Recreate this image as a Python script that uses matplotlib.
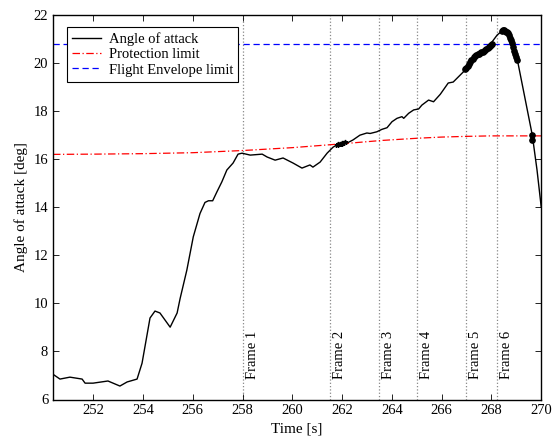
import matplotlib.pyplot as plt

plt.rcParams['font.family'] = ['Liberation Serif', 'DejaVu Serif']

# angle of attack trace
time = [250.38, 250.66, 251.06, 251.55, 251.67, 251.99, 252.59, 253.07, 253.36,
        253.76, 253.96, 254.28, 254.48, 254.68, 255.09, 255.37, 255.49, 255.76,
        256.02, 256.29, 256.49, 256.63, 256.8, 256.97, 257.17, 257.37, 257.62,
        257.82, 257.98, 258.31, 258.79, 258.99, 259.31, 259.63, 260.03, 260.39,
        260.71, 260.83, 261.12, 261.4, 261.64, 261.92, 262.2, 262.44, 262.72,
        263.0, 263.13, 263.4, 263.6, 263.81, 264.01, 264.21, 264.41, 264.48,
        264.68, 264.88, 265.08, 265.21, 265.48, 265.68, 265.95, 266.27, 266.47,
        266.75, 267.03, 267.28, 267.56, 267.88, 268.24, 268.49, 268.69, 268.89,
        269.05, 269.29, 269.65, 269.84, 270.01]
aoa = [7.05, 6.85, 6.93, 6.85, 6.68, 6.68, 6.77, 6.56, 6.73,
       6.85, 7.51, 9.39, 9.68, 9.6, 9.01, 9.6, 10.2, 11.38,
       12.77, 13.74, 14.2, 14.27, 14.27, 14.64, 15.06, 15.55, 15.84,
       16.21, 16.25, 16.17, 16.21, 16.09, 15.96, 16.05, 15.84, 15.63,
       15.76, 15.67, 15.88, 16.25, 16.5, 16.67, 16.67, 16.8, 17.0,
       17.09, 17.07, 17.14, 17.24, 17.31, 17.56, 17.7, 17.77, 17.7,
       17.91, 18.05, 18.09, 18.25, 18.46, 18.39, 18.7, 19.17, 19.21,
       19.5, 19.79, 20.21, 20.42, 20.67, 21.17, 21.38, 21.25, 20.42,
       20.13, 18.88, 17.0, 15.55, 14.0]

# highlighted samples
mark_t = [266.95, 267.0, 267.05, 267.1, 267.15, 267.2, 267.25, 267.3, 267.35,
          267.4, 267.45, 267.5, 267.55, 267.6, 267.65, 267.7, 267.75, 267.8,
          267.85, 267.9, 267.95, 268.0, 268.03,
          268.43, 268.47, 268.51, 268.55, 268.59, 268.63, 268.67, 268.71, 268.75,
          268.79, 268.83, 268.87, 268.91, 268.95, 268.99, 269.04,
          269.64, 269.64]
mark_v = [19.75, 19.8, 19.86, 19.95, 20.05, 20.12, 20.18, 20.24, 20.28,
          20.32, 20.36, 20.39, 20.42, 20.45, 20.48, 20.52, 20.55, 20.58,
          20.62, 20.66, 20.7, 20.75, 20.78,
          21.34, 21.36, 21.36, 21.34, 21.31, 21.28, 21.24, 21.15, 21.05,
          20.95, 20.82, 20.66, 20.5, 20.36, 20.25, 20.13,
          17.0, 16.8]
star_t = [261.78, 261.84, 261.9, 261.95, 262.0, 262.05, 262.1]
star_v = [16.6, 16.62, 16.64, 16.65, 16.66, 16.68, 16.7]

# protection limit
prot_t = [250.38, 252, 254, 256, 258, 260, 262, 263.6, 265, 266, 267, 268, 269, 270]
prot_v = [16.2, 16.21, 16.23, 16.27, 16.36, 16.48, 16.64, 16.78, 16.87, 16.92, 16.95,
          16.97, 16.97, 16.97]

envelope = 20.78

frames = [258.0, 261.5, 263.5, 265.0, 267.0, 268.25]
frame_labels = ['Frame 1', 'Frame 2', 'Frame 3', 'Frame 4', 'Frame 5', 'Frame 6']

fig = plt.figure(figsize=(5.53, 4.43), dpi=100)
ax = fig.add_axes([53 / 553, 43.5 / 443, 488 / 553, 384.5 / 443])

for f, lab in zip(frames, frame_labels):
    ax.axvline(f, color='#888888', ls=':', lw=0.9, zorder=1)
    ax.text(f + 0.12, 6.85, lab, rotation=90, ha='left', va='bottom', fontsize=10.5)

ax.plot(time, aoa, color='black', lw=1.0, label='Angle of attack', zorder=3)
ax.plot(prot_t, prot_v, color='red', lw=0.9, ls=(0, (6, 2, 1, 2)),
        label='Protection limit', zorder=2)
ax.axhline(envelope, color='blue', lw=0.9, ls=(0, (5, 3)),
           label='Flight Envelope limit', zorder=2)
ax.plot(mark_t, mark_v, 'o', color='black', ms=3.8, zorder=4)
ax.plot(star_t, star_v, '*', color='black', ms=3.5, zorder=4)

ax.set_xlim(250.38, 270)
ax.set_ylim(6, 22)
ax.set_xticks(range(252, 271, 2))
ax.set_yticks(range(6, 23, 2))
ax.tick_params(direction='in', top=True, right=True, length=4, width=0.6,
               labelsize=10.5, colors='black')
for s in ax.spines.values():
    s.set_linewidth(1.0)

ax.set_xlabel('Time [s]', fontsize=11)
ax.set_ylabel('Angle of attack [deg]', fontsize=11)

leg = ax.legend(loc='upper left', bbox_to_anchor=(0.029, 0.969), borderaxespad=0,
                fancybox=False, edgecolor='black', framealpha=1, fontsize=10.5,
                handlelength=2.0, borderpad=0.35, labelspacing=0.15,
                handletextpad=0.5)
leg.get_frame().set_linewidth(0.8)

fig.savefig('out.png', dpi=100)
